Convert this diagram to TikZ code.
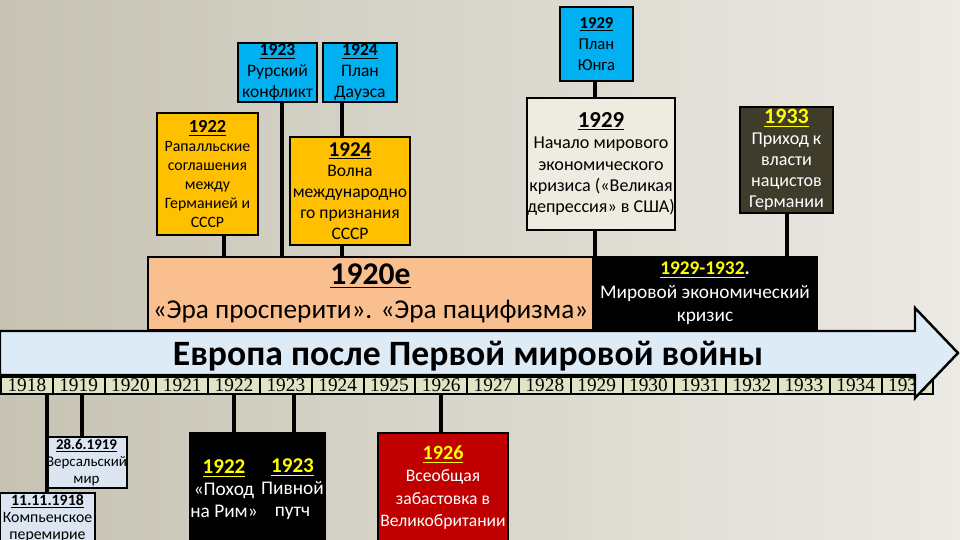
\documentclass[tikz,border=0pt]{standalone}
\usepackage{fontspec}
\setmainfont{Carlito}
\newfontfamily\yearfont{Liberation Serif}
\definecolor{bgL}{RGB}{198,195,180}
\definecolor{bgR}{RGB}{236,234,228}
\definecolor{blueC}{RGB}{0,176,240}
\definecolor{orangeC}{RGB}{255,192,0}
\definecolor{bandC}{RGB}{250,191,143}
\definecolor{creamC}{RGB}{238,236,225}
\definecolor{naziC}{RGB}{64,60,44}
\definecolor{arrowC}{RGB}{221,235,247}
\definecolor{yearC}{RGB}{222,228,196}
\definecolor{lightC}{RGB}{220,230,242}
\definecolor{redC}{RGB}{192,0,0}
\definecolor{yelC}{RGB}{255,255,0}
\begin{document}
\begin{tikzpicture}[x=0.02cm,y=-0.02cm,
  box/.style={draw=black, line width=1.1pt, inner sep=0pt, align=center, anchor=center},
  conn/.style={line width=2pt, black},
  yearcell/.style={draw=black, line width=1.1pt, fill=yearC, inner sep=0pt, anchor=north west,
    minimum width=1.036cm, minimum height=0.34cm, font=\yearfont\fontsize{11}{11}\selectfont},
  hdr/.style={font=\bfseries}]
\useasboundingbox (0,0) rectangle (960,540);
\shade[left color=bgL, right color=bgR] (0,0) rectangle (960,540);

% top boxes
\node[box, fill=blueC, minimum width=1.58cm, minimum height=1.18cm,
  font=\fontsize{10}{12}\selectfont] (ruhr) at (277.5,72.5)
  {\underline{\textbf{1923}}\\Рурский\\конфликт};
\node[box, fill=blueC, minimum width=1.48cm, minimum height=1.18cm,
  font=\fontsize{10}{12}\selectfont] (dawes) at (360,72.5)
  {\underline{\textbf{1924}}\\План\\Дауэса};
\node[box, fill=orangeC, minimum width=2.02cm, minimum height=2.44cm,
  font=\fontsize{9}{10.8}\selectfont] (rapallo) at (207.5,174)
  {{\fontsize{10.5}{10.8}\selectfont\underline{\textbf{1922}}}\\Рапалльские\\соглашения\\между\\Германией и\\СССР};
\node[box, fill=orangeC, minimum width=2.4cm, minimum height=2.16cm,
  font=\fontsize{10}{11.9}\selectfont] (wave) at (350,191)
  {{\fontsize{12}{11.9}\selectfont\underline{\textbf{1924}}}\\Волна\\международно\\го признания\\СССР};
\node[box, fill=blueC, minimum width=1.46cm, minimum height=1.48cm,
  font=\fontsize{9.5}{12}\selectfont] (young) at (596.5,44)
  {\underline{\textbf{1929}}\\План\\Юнга};
\node[box, fill=creamC, minimum width=2.96cm, minimum height=2.64cm,
  font=\fontsize{10.3}{12.2}\selectfont] (crisis) at (601,164)
  {{\fontsize{13}{12.2}\selectfont\underline{\textbf{1929}}}\\Начало мирового\\экономического\\кризиса («Великая\\депрессия» в США)};
\node[box, fill=naziC, text=white, minimum width=1.86cm, minimum height=2.12cm,
  font=\fontsize{10.3}{12}\selectfont] (nazi) at (786.5,160)
  {{\fontsize{12.5}{12}\selectfont\textcolor{yelC}{\underline{\textbf{1933}}}}\\Приход к\\власти\\нацистов\\Германии};

% bands
\node[box, fill=bandC, minimum width=8.9cm, minimum height=1.46cm,
  font=\fontsize{15.5}{19.5}\selectfont] (twenties) at (370.5,293.5)
  {{\fontsize{18}{19.5}\selectfont\underline{\textbf{1920е}}}\\«Эра просперити». «Эра пацифизма»};
\node[box, fill=black, text=white, minimum width=4.48cm, minimum height=1.46cm,
  font=\fontsize{11}{13.5}\selectfont] (crisisband) at (705,293.5)
  {\textbf{\textcolor{yelC}{\underline{1929-1932}}.}\\Мировой экономический\\кризис};

% year strip
\foreach \i in {0,...,17} {
  \pgfmathtruncatemacro\yr{1918+\i}
  \node[yearcell] (y\yr) at (51.8*\i,376) {\yr};
}

% arrow
\draw[line width=1.4pt, fill=arrowC, line join=miter]
  (0,331) -- (915,331) -- (915,308) -- (958,353) -- (915,398) -- (915,375) -- (0,375) -- cycle;
\node[font=\fontsize{20.3}{22}\selectfont\bfseries] (title) at (468,356) {Европа после Первой мировой войны};

% bottom boxes
\node[box, fill=lightC, minimum width=1.9cm, minimum height=1.0cm,
  font=\fontsize{9}{9.7}\selectfont] (armistice) at (47.5,518)
  {\underline{\textbf{11.11.1918}}\\Компьенское\\перемирие};
\node[box, fill=lightC, minimum width=1.54cm, minimum height=1.02cm,
  font=\fontsize{8.5}{9.9}\selectfont] (versailles) at (86.5,462.5)
  {\underline{\textbf{28.6.1919}}\\Версальский\\мир};
\node[box, fill=black, text=white, minimum width=1.28cm, minimum height=2.24cm,
  font=\fontsize{11}{12.5}\selectfont] (rome) at (224,489)
  {{\fontsize{12}{12.5}\selectfont\textcolor{yelC}{\underline{\textbf{1922}}}}\\«Поход\\на Рим»};
\node[box, fill=black, text=white, minimum width=1.3cm, minimum height=2.24cm,
  font=\fontsize{11}{12.5}\selectfont] (putsch) at (292.5,489)
  {{\fontsize{12}{12.5}\selectfont\textcolor{yelC}{\underline{\textbf{1923}}}}\\Пивной\\путч};
\node[box, fill=redC, text=white, minimum width=2.6cm, minimum height=2.18cm,
  font=\fontsize{10}{12.8}\selectfont] (strike) at (443,487.5)
  {{\fontsize{11.5}{12.8}\selectfont\textcolor{yelC}{\underline{\textbf{1926}}}}\\Всеобщая\\забастовка в\\Великобритании};

% connector x positions
\coordinate (kRap) at (224,0);
\coordinate (kRuhr) at (282,0);
\coordinate (kDaw) at (342,0);
\coordinate (kYoung) at (595,0);
\coordinate (kNazi) at (787,0);
\coordinate (kArm) at (47,0);
\coordinate (kVer) at (82,0);
\coordinate (kRome) at (234,0);
\coordinate (kPut) at (294,0);
\coordinate (kStr) at (441,0);

\draw[conn] (rapallo.south -| kRap) -- (twenties.north -| kRap);
\draw[conn] (ruhr.south -| kRuhr) -- (twenties.north -| kRuhr);
\draw[conn] (dawes.south -| kDaw) -- (wave.north -| kDaw);
\draw[conn] (wave.south -| kDaw) -- (twenties.north -| kDaw);
\draw[conn] (young.south -| kYoung) -- (crisis.north -| kYoung);
\draw[conn] (crisis.south -| kYoung) -- (crisisband.north -| kYoung);
\draw[conn] (nazi.south -| kNazi) -- (crisisband.north -| kNazi);
\draw[conn] (y1918.south -| kArm) -- (armistice.north -| kArm);
\draw[conn] (y1919.south -| kVer) -- (versailles.north -| kVer);
\draw[conn] (y1922.south -| kRome) -- (rome.north -| kRome);
\draw[conn] (y1923.south -| kPut) -- (putsch.north -| kPut);
\draw[conn] (y1926.south -| kStr) -- (strike.north -| kStr);
\end{tikzpicture}
\end{document}
